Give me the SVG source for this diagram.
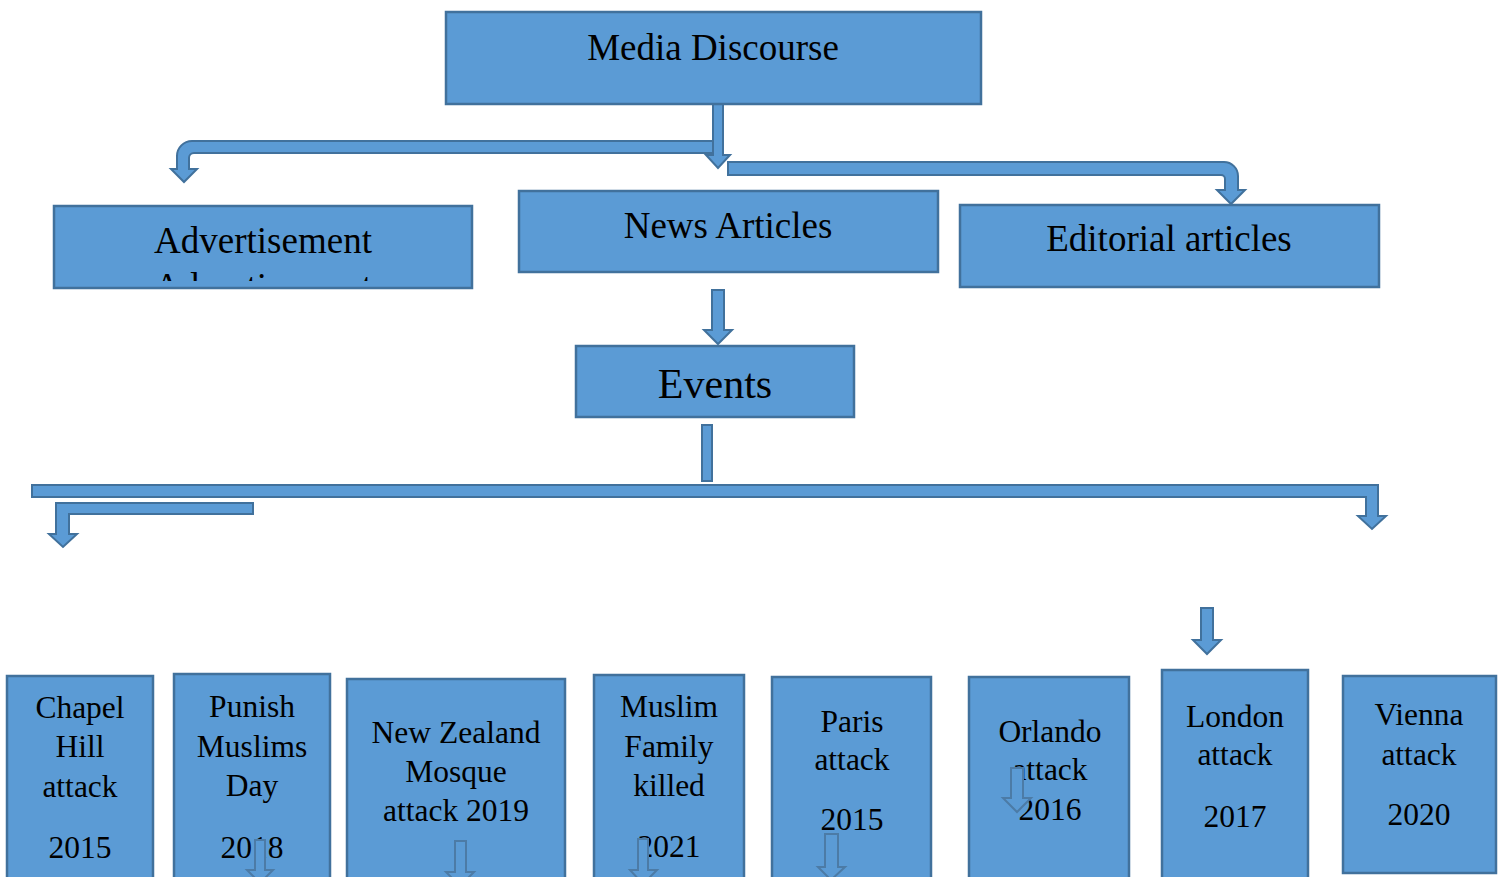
<svg xmlns="http://www.w3.org/2000/svg" width="1504" height="877" viewBox="0 0 1504 877">
<style>
.box{fill:#5B9BD5;stroke:#41719C;stroke-width:2.5}
.arr{fill:#5B9BD5;stroke:#41719C;stroke-width:2;stroke-linejoin:miter}
.oarr{fill:#5B9BD5;stroke:#4C7BA6;stroke-width:2}
.t{font-family:"Liberation Serif","Times New Roman",serif;fill:#000;text-anchor:middle}
.big{font-size:37px}
.ev{font-size:42px}
.sm{font-size:31.5px}
</style>
<defs>
<clipPath id="advClip"><rect x="56" y="208" width="414" height="73"/></clipPath>
</defs>
<rect width="1504" height="877" fill="#fff"/>

<g id="connectors">
<path class="arr" d="M722,141 H192 A15,15 0 0 0 177,156 V169 H171 L184,182 L197,169 H189 V158 A5,5 0 0 1 194,153 H722 Z"/>
<path class="arr" d="M713,104 V155 H706 L718,168 L730,155 H723 V104 Z"/>
<path class="arr" d="M728,162 H1224 A14,14 0 0 1 1238,176 V190 H1245 L1231,204 L1217,190 H1225 V179 A4,4 0 0 0 1221,175 H728 Z"/>
<path class="arr" d="M712,290 V330 H704 L718,344 L732,330 H724 V290 Z"/>
<rect class="arr" x="702" y="425" width="10" height="56"/>
<path class="arr" d="M32,485 H1378 V516 H1386 L1372,529 L1358,516 H1366 V497 H32 Z"/>
<path class="arr" d="M253,503 V514 H69 V534 H77 L63,547 L49,534 H56 V503 Z"/>
<path class="arr" d="M1201,608 V640 H1193 L1207,654 L1221,640 H1213 V608 Z"/>
</g>

<g id="media-discourse">
<rect class="box" x="446" y="12" width="535" height="92"/>
<text class="t big" x="713" y="60">Media Discourse</text>
</g>
<g id="advertisement">
<rect class="box" x="54" y="206" width="418" height="82"/>
<text class="t big" x="263" y="253">Advertisement</text>
<text class="t big" x="263" y="299" clip-path="url(#advClip)">Advertisement</text>
</g>
<g id="news-articles">
<rect class="box" x="519" y="191" width="419" height="81"/>
<text class="t big" x="728" y="238">News Articles</text>
</g>
<g id="editorial-articles">
<rect class="box" x="960" y="205" width="419" height="82"/>
<text class="t big" x="1169" y="251">Editorial articles</text>
</g>
<g id="events">
<rect class="box" x="576" y="346" width="278" height="71"/>
<text class="t ev" x="715" y="398">Events</text>
</g>

<g id="chapel-hill">
<rect class="box" x="7" y="676" width="146" height="215"/>
<text class="t sm" x="80" y="718">Chapel</text>
<text class="t sm" x="80" y="757">Hill</text>
<text class="t sm" x="80" y="797">attack</text>
<text class="t sm" x="80" y="858">2015</text>
</g>
<g id="punish-muslims-day">
<rect class="box" x="174" y="674" width="156" height="217"/>
<text class="t sm" x="252" y="717">Punish</text>
<text class="t sm" x="252" y="757">Muslims</text>
<text class="t sm" x="252" y="796">Day</text>
<text class="t sm" x="252" y="858">2018</text>
<path class="oarr" d="M255,840 V870 H247 L260,883 L273,870 H265 V840 Z"/>
</g>
<g id="new-zealand">
<rect class="box" x="347" y="679" width="218" height="212"/>
<text class="t sm" x="456" y="743">New Zealand</text>
<text class="t sm" x="456" y="782">Mosque</text>
<text class="t sm" x="456" y="821">attack 2019</text>
<path class="oarr" d="M455,841 V872 H446 L460,886 L474,872 H466 V841 Z"/>
</g>
<g id="muslim-family">
<rect class="box" x="594" y="675" width="150" height="216"/>
<text class="t sm" x="669" y="717">Muslim</text>
<text class="t sm" x="669" y="757">Family</text>
<text class="t sm" x="669" y="796">killed</text>
<text class="t sm" x="669" y="857">2021</text>
<path class="oarr" d="M638,839 V870 H630 L643,884 L657,870 H648 V839 Z"/>
</g>
<g id="paris">
<rect class="box" x="772" y="677" width="159" height="214"/>
<text class="t sm" x="852" y="732">Paris</text>
<text class="t sm" x="852" y="770">attack</text>
<text class="t sm" x="852" y="830">2015</text>
<path class="oarr" d="M825,834 V867 H818 L831,880 L845,867 H838 V834 Z"/>
</g>
<g id="orlando">
<rect class="box" x="969" y="677" width="160" height="214"/>
<text class="t sm" x="1050" y="742">Orlando</text>
<text class="t sm" x="1050" y="780">attack</text>
<text class="t sm" x="1050" y="820">2016</text>
<path class="oarr" d="M1011,768 V798 H1003 L1017,812 L1031,798 H1023 V768 Z"/>
</g>
<g id="london">
<rect class="box" x="1162" y="670" width="146" height="221"/>
<text class="t sm" x="1235" y="727">London</text>
<text class="t sm" x="1235" y="765">attack</text>
<text class="t sm" x="1235" y="827">2017</text>
</g>
<g id="vienna">
<rect class="box" x="1343" y="676" width="153" height="197"/>
<text class="t sm" x="1419" y="725">Vienna</text>
<text class="t sm" x="1419" y="765">attack</text>
<text class="t sm" x="1419" y="825">2020</text>
</g>
</svg>
